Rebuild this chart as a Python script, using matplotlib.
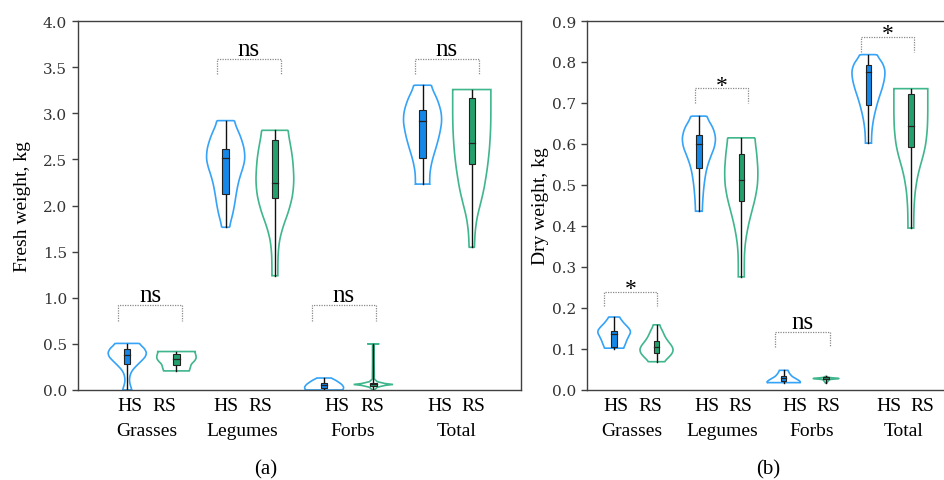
import matplotlib
matplotlib.use("Agg")
import matplotlib.pyplot as plt
import numpy as np

groups = ["Grasses", "Legumes", "Forbs", "Total"]
treatments = ["HS", "RS"]

# fresh weight, kg -- violin outlines (y levels, relative half width) and box stats
fresh_prof_y = [
    [0.0, 0.05, 0.12, 0.2, 0.27, 0.33, 0.38, 0.43, 0.48, 0.505],
    [0.207, 0.24, 0.28, 0.31, 0.34, 0.37, 0.40, 0.417],
    [1.764, 1.85, 2.0, 2.15, 2.3, 2.45, 2.55, 2.7, 2.85, 2.92],
    [1.239, 1.4, 1.55, 1.7, 1.85, 2.0, 2.2, 2.4, 2.6, 2.75, 2.815],
    [0.0, 0.03, 0.06, 0.09, 0.11, 0.13],
    [0.0, 0.03, 0.05, 0.06, 0.07, 0.09, 0.1, 0.12, 0.3, 0.5, 0.5],
    [2.232, 2.3, 2.4, 2.5, 2.65, 2.8, 2.95, 3.1, 3.22, 3.304],
    [1.547, 1.65, 1.8, 1.95, 2.1, 2.3, 2.5, 2.7, 2.9, 3.1, 3.257],
]
fresh_prof_w = [
    [0.25, 0.15, 0.1, 0.2, 0.5, 0.8, 1.0, 0.95, 0.75, 0.55],
    [0.65, 0.7, 0.75, 0.9, 1.0, 1.0, 0.95, 0.95],
    [0.17, 0.3, 0.45, 0.55, 0.7, 0.95, 1.0, 0.85, 0.55, 0.4],
    [0.15, 0.15, 0.18, 0.3, 0.55, 0.8, 0.97, 0.95, 0.85, 0.7, 0.65],
    [0.95, 1.0, 0.9, 0.7, 0.55, 0.35],
    [0.05, 0.2, 0.6, 1.0, 0.6, 0.2, 0.15, 0.05, 0.04, 0.04, 0.3],
    [0.37, 0.35, 0.4, 0.5, 0.72, 0.9, 1.0, 0.85, 0.6, 0.4],
    [0.13, 0.15, 0.2, 0.35, 0.55, 0.72, 0.85, 0.93, 0.97, 0.97, 0.97],
]
fresh_min = [0.0, 0.207, 1.764, 1.239, 0.0, 0.0, 2.232, 1.547]
fresh_q1 = [0.286, 0.268, 2.127, 2.08, 0.025, 0.045, 2.514, 2.446]
fresh_med = [0.377, 0.333, 2.514, 2.246, 0.05, 0.06, 2.913, 2.681]
fresh_q3 = [0.442, 0.388, 2.616, 2.707, 0.072, 0.072, 3.04, 3.17]
fresh_max = [0.504, 0.417, 2.92, 2.815, 0.127, 0.5, 3.304, 3.257]

# dry weight, kg
dry_prof_y = [
    [0.102, 0.11, 0.12, 0.13, 0.142, 0.152, 0.162, 0.17, 0.178],
    [0.069, 0.075, 0.085, 0.095, 0.105, 0.118, 0.13, 0.142, 0.152, 0.159],
    [0.436, 0.46, 0.5, 0.54, 0.57, 0.6, 0.63, 0.65, 0.668],
    [0.276, 0.3, 0.35, 0.4, 0.44, 0.48, 0.52, 0.56, 0.6, 0.615],
    [0.018, 0.022, 0.027, 0.033, 0.04, 0.048],
    [0.017, 0.026, 0.028, 0.030, 0.033],
    [0.602, 0.62, 0.65, 0.68, 0.71, 0.74, 0.77, 0.79, 0.81, 0.818],
    [0.395, 0.42, 0.46, 0.5, 0.54, 0.58, 0.62, 0.66, 0.7, 0.735],
]
dry_prof_w = [
    [0.55, 0.65, 0.73, 0.85, 1.0, 0.85, 0.6, 0.45, 0.3],
    [0.45, 0.6, 0.85, 1.0, 0.95, 0.7, 0.5, 0.38, 0.25, 0.18],
    [0.2, 0.22, 0.3, 0.45, 0.7, 1.0, 0.95, 0.7, 0.4],
    [0.18, 0.17, 0.2, 0.4, 0.65, 0.9, 1.0, 0.95, 0.85, 0.78],
    [1.0, 0.95, 0.75, 0.5, 0.35, 0.25],
    [0.03, 0.2, 1.0, 0.2, 0.03],
    [0.18, 0.18, 0.25, 0.4, 0.6, 0.85, 1.0, 0.95, 0.65, 0.4],
    [0.17, 0.17, 0.2, 0.3, 0.5, 0.8, 0.95, 1.0, 1.0, 1.0],
]
dry_min = [0.101, 0.069, 0.436, 0.276, 0.018, 0.017, 0.602, 0.395]
dry_q1 = [0.104, 0.091, 0.542, 0.46, 0.021, 0.026, 0.694, 0.593]
dry_med = [0.136, 0.104, 0.601, 0.511, 0.029, 0.028, 0.776, 0.645]
dry_q3 = [0.143, 0.12, 0.621, 0.576, 0.034, 0.031, 0.792, 0.721]
dry_max = [0.177, 0.158, 0.668, 0.615, 0.048, 0.033, 0.818, 0.735]

fresh_sig = ["ns", "ns", "ns", "ns"]
dry_sig = ["*", "*", "ns", "*"]
fresh_brk_top = [0.92, 3.59, 0.92, 3.59]
fresh_brk_leg = [0.75, 3.43, 0.75, 3.43]
dry_brk_top = [0.24, 0.737, 0.142, 0.862]
dry_brk_leg = [0.205, 0.699, 0.105, 0.825]

line_cols = ["#35a3f7", "#3fb68b"]
box_cols = ["#1487e8", "#23a06b"]
SERIF = "Liberation Serif"

fig = plt.figure(figsize=(9.44, 4.81), dpi=100)
ax1 = fig.add_axes([78 / 944, 90 / 481, 443 / 944, 369 / 481])
ax2 = fig.add_axes([587 / 944, 90 / 481, 373 / 944, 369 / 481])


def smooth_outline(y, w):
    # round off the corners of the read-off outline (only for plain profiles)
    if np.any(np.diff(y) <= 0):
        return y, w
    yy = np.linspace(y[0], y[-1], 200)
    ww = np.interp(yy, y, w)
    k = 15
    pad = np.concatenate([np.full(k, ww[0]), ww, np.full(k, ww[-1])])
    ww = np.convolve(pad, np.ones(2 * k + 1) / (2 * k + 1), mode="same")[k:-k]
    ww[0], ww[-1] = w[0], w[-1]
    return yy, ww


def draw_panel(ax, prof_y, prof_w, vmin, q1, med, q3, vmax):
    for i in range(8):
        col = i % 2
        y, w = smooth_outline(np.array(prof_y[i]), np.array(prof_w[i]))
        w = w * 0.40
        xs = np.concatenate([i + w, (i - w)[::-1]])
        ys = np.concatenate([y, y[::-1]])
        ax.fill(xs, ys, fill=False, edgecolor=line_cols[col], lw=1.2, zorder=2)
        ax.plot([i, i], [vmin[i], vmax[i]], color="#111111", lw=1.0, zorder=3)
        ax.add_patch(plt.Rectangle((i - 0.065, q1[i]), 0.13, q3[i] - q1[i],
                                   facecolor=box_cols[col], edgecolor="#222222",
                                   lw=0.8, zorder=4))
        ax.plot([i - 0.065, i + 0.065], [med[i], med[i]], color="#222222", lw=0.9, zorder=5)


def draw_brackets(ax, spans, tops, legs, labels):
    for (x0, x1), t, l, s in zip(spans, tops, legs, labels):
        ax.plot([x0, x0, x1, x1], [l, t, t, l], ls=(0, (1, 1)), color="#8a8a8a", lw=0.9)
        off = 3 if s == "ns" else -2
        size = 18 if s == "ns" else 17
        ax.annotate(s, ((x0 + x1) / 2, t), xytext=(0, off), textcoords="offset points",
                    ha="center", va="baseline", fontsize=size, family=SERIF)


def style_axis(ax, xlim, ylim, step, hs_x, rs_x, grp_x, letter, letter_x, ylabel, lab_x):
    ax.set_xlim(*xlim)
    ax.set_ylim(*ylim)
    ax.set_yticks(np.arange(0, ylim[1] + 1e-9, step))
    ax.yaxis.set_major_formatter(matplotlib.ticker.FormatStrFormatter("%.1f"))
    ax.set_xticks([])
    for sp in ax.spines.values():
        sp.set_color("#404040")
        sp.set_linewidth(1.0)
    ax.tick_params(axis="y", direction="out", length=4, width=1.0, color="#404040",
                   labelsize=11, pad=4)
    for lab in ax.get_yticklabels():
        lab.set_family("DejaVu Serif")
        lab.set_color("#333333")
    tr = ax.get_xaxis_transform()
    for k in range(4):
        ax.text(hs_x[k], -0.041, treatments[0], transform=tr, ha="center", va="center",
                fontsize=14, family=SERIF)
        ax.text(rs_x[k], -0.041, treatments[1], transform=tr, ha="center", va="center",
                fontsize=14, family=SERIF)
        ax.text(grp_x[k], -0.111, groups[k], transform=tr, ha="center", va="center",
                fontsize=14, family=SERIF)
    ax.text(letter_x, -0.214, letter, transform=ax.transAxes, ha="center", va="center",
            fontsize=15, family=SERIF)
    ax.set_ylabel(ylabel, fontsize=14, family=SERIF)
    ax.yaxis.set_label_coords(lab_x, 0.5)


draw_panel(ax1, fresh_prof_y, fresh_prof_w, fresh_min, fresh_q1, fresh_med, fresh_q3, fresh_max)
draw_brackets(ax1, [(-0.18, 1.12), (1.82, 3.12), (3.75, 5.05), (5.84, 7.14)],
              fresh_brk_top, fresh_brk_leg, fresh_sig)
style_axis(ax1, (-1, 8), (0, 4.0), 0.5, [0.06, 2.0, 4.26, 6.35], [0.75, 2.70, 4.97, 7.04],
           [0.39, 2.33, 4.58, 6.69], "(a)", 0.424, "Fresh weight, kg", -0.105)

draw_panel(ax2, dry_prof_y, dry_prof_w, dry_min, dry_q1, dry_med, dry_q3, dry_max)
draw_brackets(ax2, [(-0.24, 1.01), (1.91, 3.16), (3.80, 5.09), (5.83, 7.08)],
              dry_brk_top, dry_brk_leg, dry_sig)
style_axis(ax2, (-0.64, 8.16), (0, 0.9), 0.1, [0.05, 2.19, 4.27, 6.49], [0.85, 2.97, 5.05, 7.26],
           [0.42, 2.55, 4.65, 6.84], "(b)", 0.485, "Dry weight, kg", -0.102)
ax2.spines["right"].set_visible(False)

fig.savefig("out.png", dpi=100)
